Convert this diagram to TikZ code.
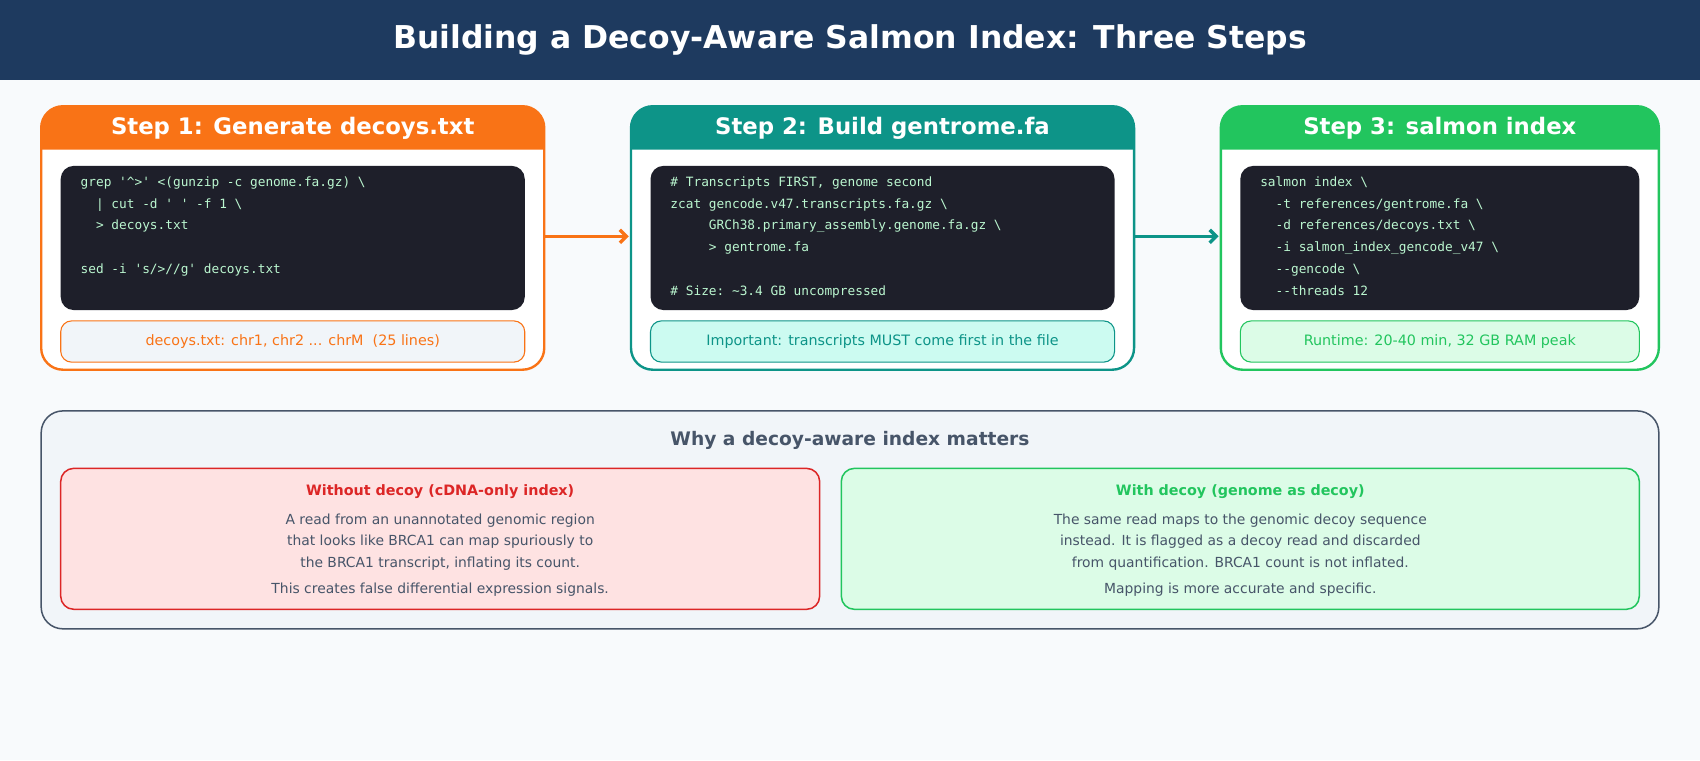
\documentclass[tikz,border=0pt]{standalone}
\usepackage{fontspec}
\setmainfont{DejaVu Sans}
\setmonofont{DejaVu Sans Mono}
\definecolor{bg}{HTML}{F8FAFC}
\definecolor{navy}{HTML}{1E3A5F}
\definecolor{orng}{HTML}{F97316}
\definecolor{teal2}{HTML}{0D9488}
\definecolor{grn}{HTML}{22C55E}
\definecolor{codebg}{HTML}{1E1F2A}
\definecolor{codefg}{HTML}{BBF7D0}
\definecolor{slate}{HTML}{475569}
\definecolor{panel}{HTML}{F1F5F9}
\definecolor{redd}{HTML}{DC2626}
\definecolor{pinkbg}{HTML}{FEE2E2}
\definecolor{mintbg}{HTML}{CCFBF1}
\definecolor{lgbg}{HTML}{DCFCE7}
\definecolor{grnd}{HTML}{16A34A}
\tikzset{
 codeline/.style={anchor=base west,inner sep=0,text=codefg,font=\ttfamily\fontsize{5.9}{7}\selectfont},
 stephead/.style={text=white,font=\bfseries\fontsize{10.5}{12}\selectfont},
 notetext/.style={font=\fontsize{6.6}{8}\selectfont},
 body/.style={text=slate,font=\fontsize{6.4}{8}\selectfont,align=center},
 arr/.style={line width=1.6pt,-{Straight Barb[length=3pt,width=6pt]}},
}
\usetikzlibrary{arrows.meta}
\begin{document}
\begin{tikzpicture}[x=0.5pt,y=-0.5pt]
\useasboundingbox (0,0) rectangle (1568,701);
\fill[bg] (0,0) rectangle (1568,701);
\fill[navy] (0,0) rectangle (1568,74);
\node[text=white,font=\bfseries\fontsize{14.5}{16}\selectfont] (title) at (784,37) {Building a Decoy-Aware Salmon Index: Three Steps};
% step boxes
\foreach \xa/\xb/\c/\nm in {38/502/orng/s1,582/1046/teal2/s2,1126/1530/grn/s3}{
 \fill[white,rounded corners=10] (\xa,98) rectangle (\xb,341);
 \fill[\c] (\xa,138) [rounded corners=10]-- (\xa,98) -- (\xb,98) [sharp corners]-- (\xb,138) -- cycle;
 \draw[\c,line width=1.1pt,rounded corners=10] (\xa,98) rectangle (\xb,341);
 \fill[codebg,rounded corners=6] (\xa+18,153) rectangle (\xb-18,286);
}
\node[stephead] (h1) at (270,118) {Step 1: Generate decoys.txt};
\node[stephead] (h2) at (814,118) {Step 2: Build gentrome.fa};
\node[stephead] (h3) at (1328,118) {Step 3: salmon index};
% code step1
\node[codeline] (c11) at (74,172) {grep '\textasciicircum>' <(gunzip -c genome.fa.gz) \textbackslash};
\node[codeline] (c12) at (74,192) {\ \ | cut -d ' ' -f 1 \textbackslash};
\node[codeline] (c13) at (74,212) {\ \ > decoys.txt};
\node[codeline] (c14) at (74,252) {sed -i 's/>//g' decoys.txt};
% code step2
\node[codeline] (c21) at (618,172) {\# Transcripts FIRST, genome second};
\node[codeline] (c22) at (618,192) {zcat gencode.v47.transcripts.fa.gz \textbackslash};
\node[codeline] (c23) at (618,212) {\ \ \ \ \ GRCh38.primary\_assembly.genome.fa.gz \textbackslash};
\node[codeline] (c24) at (618,232) {\ \ \ \ \ > gentrome.fa};
\node[codeline] (c25) at (618,273) {\# Size: \textasciitilde3.4 GB uncompressed};
% code step3
\node[codeline] (c31) at (1162,172) {salmon index \textbackslash};
\node[codeline] (c32) at (1162,192) {\ \ -t references/gentrome.fa \textbackslash};
\node[codeline] (c33) at (1162,212) {\ \ -d references/decoys.txt \textbackslash};
\node[codeline] (c34) at (1162,232) {\ \ -i salmon\_index\_gencode\_v47 \textbackslash};
\node[codeline] (c35) at (1162,252) {\ \ --gencode \textbackslash};
\node[codeline] (c36) at (1162,273) {\ \ --threads 12};
% notes
\draw[orng,fill=panel,rounded corners=5,line width=0.5pt] (56,296) rectangle (484,334);
\node[notetext,text=orng] (n1) at (270,315) {decoys.txt: chr1, chr2 ... chrM\ \ (25 lines)};
\draw[teal2,fill=mintbg,rounded corners=5,line width=0.5pt] (600,296) rectangle (1028,334);
\node[notetext,text=teal2] (n2) at (814,315) {Important: transcripts MUST come first in the file};
\draw[grn,fill=lgbg,rounded corners=5,line width=0.5pt] (1144,296) rectangle (1512,334);
\node[notetext,text=grn] (n3) at (1328,315) {Runtime: 20-40 min, 32 GB RAM peak};
% arrows
\coordinate (a1s) at (503,218); \coordinate (a1e) at (580,218);
\coordinate (a2s) at (1047,218); \coordinate (a2e) at (1124,218);
\draw[arr,orng] (a1s) -- (a1e);
\draw[arr,teal2] (a2s) -- (a2e);
% bottom panel
\draw[slate,fill=panel,rounded corners=10,line width=0.7pt] (38,379) rectangle (1530,580);
\node[text=slate,font=\bfseries\fontsize{8.6}{10}\selectfont] (why) at (784,406) {Why a decoy-aware index matters};
\draw[redd,fill=pinkbg,rounded corners=6,line width=0.7pt] (56,432) rectangle (756,562);
\node[text=redd,font=\bfseries\fontsize{6.6}{8}\selectfont] (lt) at (406,453) {Without decoy (cDNA-only index)};
\node[body,font=\fontsize{6.4}{10}\selectfont] (lb) at (406,500) {A read from an unannotated genomic region\\that looks like BRCA1 can map spuriously to\\the BRCA1 transcript, inflating its count.};
\node[body] (lc) at (406,544) {This creates false differential expression signals.};
\draw[grn,fill=lgbg,rounded corners=6,line width=0.7pt] (776,432) rectangle (1512,562);
\node[text=grn,font=\bfseries\fontsize{6.6}{8}\selectfont] (rt) at (1144,453) {With decoy (genome as decoy)};
\node[body,font=\fontsize{6.4}{10}\selectfont] (rb) at (1144,500) {The same read maps to the genomic decoy sequence\\instead. It is flagged as a decoy read and discarded\\from quantification. BRCA1 count is not inflated.};
\node[body] (rc) at (1144,544) {Mapping is more accurate and specific.};
\end{tikzpicture}
\end{document}
